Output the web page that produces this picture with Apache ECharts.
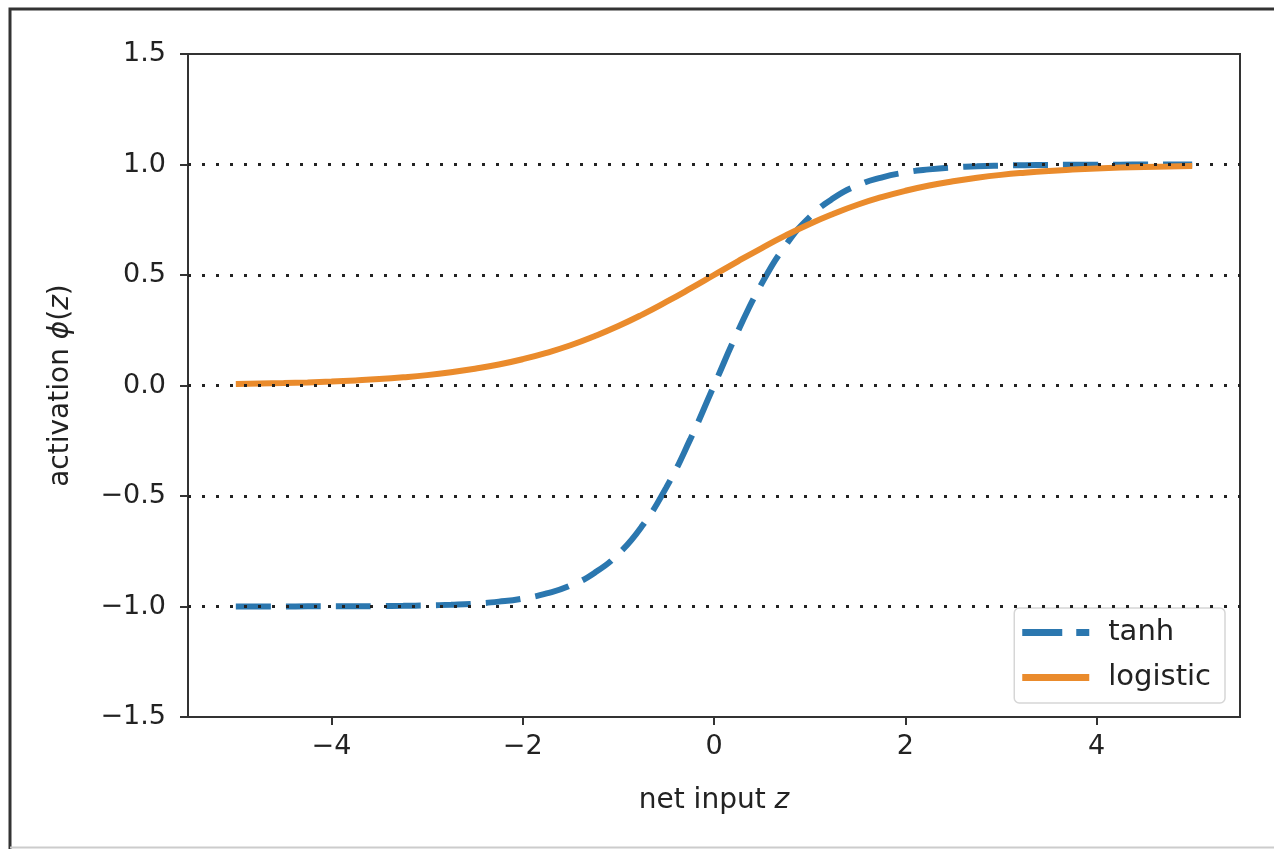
<!DOCTYPE html>
<html>
<head>
<meta charset="utf-8">
<script src="https://cdn.jsdelivr.net/npm/echarts@6/dist/echarts.min.js"></script>
<style>
html,body{margin:0;padding:0;background:#fff;}
#chart{width:1274px;height:849px;}
</style>
</head>
<body>
<div id="chart"></div>
<script>
// net input z (x values)
const zValues = [-5,-4.75,-4.5,-4.25,-4,-3.75,-3.5,-3.25,-3,-2.75,-2.5,-2.25,-2,-1.75,-1.5,-1.25,-1,-0.75,-0.5,-0.25,0,
  0.25,0.5,0.75,1,1.25,1.5,1.75,2,2.25,2.5,2.75,3,3.25,3.5,3.75,4,4.25,4.5,4.75,5];
// tanh activation values
const tanhValues = [-1.000,-1.000,-1.000,-0.999,-0.999,-0.999,-0.998,-0.997,-0.995,-0.992,-0.987,-0.978,-0.964,-0.941,-0.905,-0.848,-0.762,-0.635,-0.462,-0.245,0.000,
  0.245,0.462,0.635,0.762,0.848,0.905,0.941,0.964,0.978,0.987,0.992,0.995,0.997,0.998,0.999,0.999,0.999,1.000,1.000,1.000];
// logistic activation values
const logisticValues = [0.007,0.009,0.011,0.014,0.018,0.023,0.029,0.037,0.047,0.060,0.076,0.095,0.119,0.148,0.182,0.223,0.269,0.321,0.378,0.438,0.500,
  0.562,0.622,0.679,0.731,0.777,0.818,0.852,0.881,0.905,0.924,0.940,0.953,0.963,0.971,0.977,0.982,0.986,0.989,0.991,0.993];
// reference horizontal dotted lines
const hLines = [1.0, 0.5, 0.0, -0.5, -1.0];
// tick labels
const xTicks = [-4, -2, 0, 2, 4];
const yTicks = [-1.5, -1.0, -0.5, 0.0, 0.5, 1.0, 1.5];

const FONT = 'DejaVu Sans';
const fmt = v => (Math.abs(v) < 1e-9 ? '0' : String(v)).replace('-', '\u2212');
const fmtY = v => v.toFixed(1).replace('-', '\u2212');

const chart = echarts.init(document.getElementById('chart'), null, {renderer: 'canvas'});
chart.setOption({
  animation: false,
  backgroundColor: '#fff',
  textStyle: {fontFamily: FONT},
  grid: {left: 188, top: 54, right: 34, bottom: 132, show: true, borderColor: '#333', borderWidth: 2, backgroundColor: 'transparent'},
  graphic: [
    {type: 'polyline', shape: {points: [[10, 849], [10, 9], [1274, 9]]}, style: {stroke: '#333', lineWidth: 3, fill: null}, silent: true},
    {type: 'line', shape: {x1: 10, y1: 847.5, x2: 1274, y2: 847.5}, style: {stroke: '#ccc', lineWidth: 2}, silent: true}
  ],
  xAxis: {
    type: 'value', min: -5.5, max: 5.5,
    name: '{n|net input }{i|z}', nameLocation: 'middle', nameGap: 70,
    nameTextStyle: {rich: {n: {fontSize: 28, fontFamily: FONT, color: '#222'}, i: {fontSize: 28, fontFamily: FONT, fontStyle: 'italic', color: '#222'}}},
    axisLine: {show: true, onZero: false, lineStyle: {color: '#333', width: 2}},
    axisTick: {show: true, inside: false, length: 8, lineStyle: {color: '#333', width: 2}, customValues: xTicks},
    axisLabel: {fontSize: 27, color: '#222', margin: 16, formatter: fmt, customValues: xTicks, fontFamily: FONT},
    splitLine: {show: false}
  },
  yAxis: {
    type: 'value', min: -1.5, max: 1.5, interval: 0.5,
    name: '{n|activation }{i|\u03D5}{n|(}{i|z}{n|)}', nameLocation: 'middle', nameGap: 113, nameRotate: 90,
    nameTextStyle: {rich: {n: {fontSize: 28, fontFamily: FONT, color: '#222'}, i: {fontSize: 28, fontFamily: FONT, fontStyle: 'italic', color: '#222'}}},
    axisLine: {show: true, onZero: false, lineStyle: {color: '#333', width: 2}},
    axisTick: {show: true, inside: false, length: 8, lineStyle: {color: '#333', width: 2}},
    axisLabel: {fontSize: 27, color: '#222', margin: 22, formatter: fmtY, fontFamily: FONT},
    splitLine: {show: false}
  },
  legend: {
    right: 49, bottom: 146, orient: 'vertical',
    data: [
      {name: 'tanh', icon: 'path://M0,0h40v7h-40z M54,0h13v7h-13z'},
      {name: 'logistic', icon: 'path://M0,0h67v7h-67z'}
    ],
    itemWidth: 67, itemHeight: 7, itemGap: 16,
    padding: [10, 14, 11, 8],
    backgroundColor: 'rgba(255,255,255,0.85)',
    borderColor: '#d6d6d6', borderWidth: 1.5, borderRadius: 5,
    textStyle: {fontSize: 29, color: '#222', fontFamily: FONT, padding: [0, 0, 0, 14]}
  },
  series: [
    {
      name: 'hlines', type: 'line', data: [], z: 1, silent: true,
      markLine: {
        silent: true, symbol: ['none', 'none'], label: {show: false}, animation: false,
        lineStyle: {type: [3, 11], color: '#222', width: 3},
        data: hLines.map(v => ({yAxis: v}))
      }
    },
    {
      name: 'tanh', type: 'line', z: 3, showSymbol: false, smooth: true,
      data: zValues.map((z, i) => [z, tanhValues[i]]),
      lineStyle: {color: '#2b77af', width: 6, type: [35, 15], cap: 'butt'},
      itemStyle: {color: '#2b77af'}
    },
    {
      name: 'logistic', type: 'line', z: 4, showSymbol: false, smooth: true,
      data: zValues.map((z, i) => [z, logisticValues[i]]),
      lineStyle: {color: '#ea8b2c', width: 6},
      itemStyle: {color: '#ea8b2c'}
    }
  ]
});
</script>
</body>
</html>
